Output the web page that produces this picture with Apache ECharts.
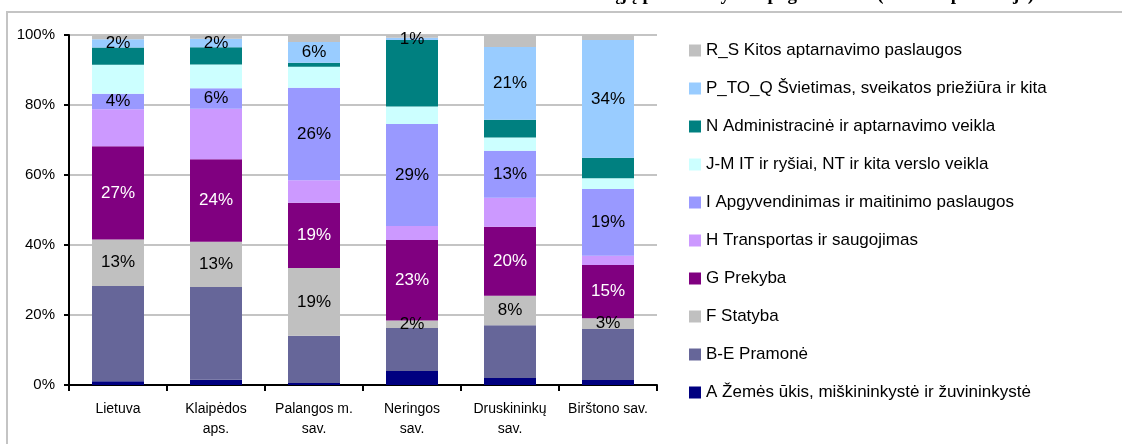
<!DOCTYPE html>
<html>
<head>
<meta charset="utf-8">
<script src="https://cdn.jsdelivr.net/npm/echarts@6/dist/echarts.min.js"></script>
<style>
  html, body { margin: 0; padding: 0; background: #fff; }
  #chart { width: 1122px; height: 444px; }
</style>
</head>
<body>
<div id="chart"></div>
<script>
// kategorijos
const categories = ['Lietuva', 'Klaipėdos\naps.', 'Palangos m.\nsav.', 'Neringos\nsav.', 'Druskininkų\nsav.', 'Birštono sav.'];
const yTicks = [0, 20, 40, 60, 80, 100];

// serijos, proc. (nuo apačios į viršų)
const zemesUkis = [1.1, 1.5, 0.6, 4.0, 2.0, 1.4];
const pramone = [27.2, 26.5, 13.5, 12.3, 15.1, 14.6];
const statyba = [13.3, 12.9, 19.3, 2.1, 8.4, 3.1];
const prekyba = [26.6, 23.6, 18.7, 23.0, 19.7, 15.2];
const transportas = [10.6, 14.4, 6.4, 4.0, 8.3, 2.6];
const apgyvendinimas = [4.4, 5.9, 26.4, 29.2, 13.4, 19.1];
const itRysiai = [8.3, 6.8, 6.0, 5.0, 3.8, 3.1];
const administracine = [4.9, 4.9, 1.2, 19.0, 5.1, 5.8];
const svietimas = [2.4, 2.4, 5.9, 0.6, 20.8, 33.7];
const kitos = [1.1, 1.1, 2.0, 0.8, 3.4, 1.4];

const seriesDefs = [
    { name: 'A Žemės ūkis, miškininkystė ir žuvininkystė', data: zemesUkis, color: '#000080' },
    { name: 'B-E Pramonė', data: pramone, color: '#666699' },
    { name: 'F Statyba', data: statyba, color: '#C0C0C0', label: '#000' },
    { name: 'G Prekyba', data: prekyba, color: '#800080', label: '#fff' },
    { name: 'H Transportas ir saugojimas', data: transportas, color: '#CC99FF' },
    { name: 'I Apgyvendinimas ir maitinimo paslaugos', data: apgyvendinimas, color: '#9999FF', label: '#000' },
    { name: 'J-M IT ir ryšiai, NT ir kita verslo veikla', data: itRysiai, color: '#CCFFFF' },
    { name: 'N Administracinė ir aptarnavimo veikla', data: administracine, color: '#008080' },
    { name: 'P_TO_Q Švietimas, sveikatos priežiūra ir kita', data: svietimas, color: '#99CCFF', label: '#000' },
    { name: 'R_S Kitos aptarnavimo paslaugos', data: kitos, color: '#C0C0C0' }
];

const font = '"Liberation Sans", Arial, sans-serif';
const chart = echarts.init(document.getElementById('chart'));

chart.setOption({
    animation: false,
    graphic: [
        // rėmelis
        {
            type: 'rect',
            shape: { x: 7, y: 12, width: 1200, height: 500 },
            style: { fill: 'none', stroke: '#c4c4c4', lineWidth: 2 },
            z: -1
        },
        // nukirptas pavadinimas
        {
            type: 'text',
            right: 88,
            top: -14,
            style: {
                text: 'Užimtųjų pasiskirstymas pagal veiklas (2011 m. pradžioje)',
                font: 'bold 19px "Liberation Serif", serif',
                fill: '#000'
            }
        }
    ],
    legend: {
        orient: 'vertical',
        left: 684,
        top: 37,
        icon: 'rect',
        itemWidth: 12,
        itemHeight: 12,
        itemGap: 21,
        selectedMode: false,
        textStyle: { fontFamily: font, fontSize: 17, lineHeight: 16, color: '#000' },
        data: seriesDefs.map(s => s.name).reverse()
    },
    grid: { left: 69, top: 35, width: 588, height: 350 },
    xAxis: {
        type: 'category',
        data: categories,
        axisLine: { lineStyle: { color: '#000', width: 2 } },
        axisTick: { show: true, length: 6, lineStyle: { color: '#000', width: 2 } },
        axisLabel: { fontFamily: font, fontSize: 14, color: '#000', margin: 14, lineHeight: 20, interval: 0 }
    },
    yAxis: {
        type: 'value',
        min: 0,
        max: 100,
        interval: 20,
        axisLine: { show: true, lineStyle: { color: '#000', width: 2 } },
        axisTick: { show: true, length: 5, lineStyle: { color: '#000', width: 2 } },
        axisLabel: {
            fontFamily: font, fontSize: 15, color: '#000', margin: 14,
            formatter: v => yTicks.includes(v) ? v + '%' : ''
        },
        splitLine: { lineStyle: { color: '#c4c4c4', width: 2 } }
    },
    series: seriesDefs.map(s => ({
        name: s.name,
        type: 'bar',
        stack: 'total',
        barWidth: 52,
        data: s.data,
        itemStyle: { color: s.color },
        label: {
            show: !!s.label,
            position: 'inside',
            color: s.label || '#000',
            fontFamily: font,
            fontSize: 17,
            formatter: p => Math.round(p.value) + '%'
        }
    }))
});
</script>
</body>
</html>
